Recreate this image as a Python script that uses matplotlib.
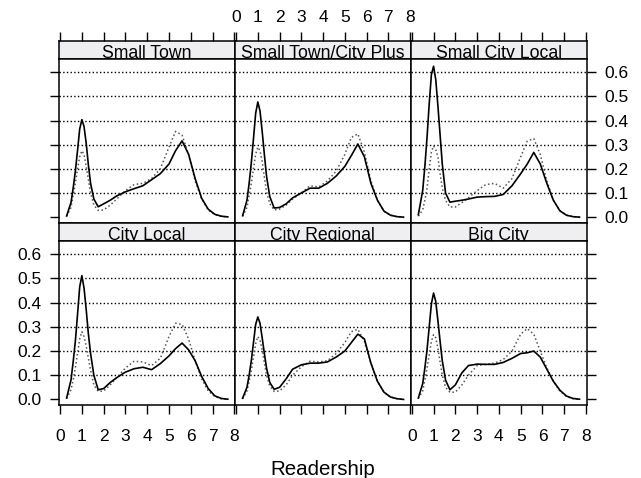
import numpy as np
import matplotlib.pyplot as plt

plt.rcParams['font.family'] = ['Liberation Sans', 'DejaVu Sans']

# readership grid the densities were read at
x = [0.3, 0.5, 0.6, 0.7, 0.8, 0.9, 1.0, 1.1, 1.2, 1.3, 1.4, 1.55, 1.75, 2.0, 2.3, 2.6,
     3.0, 3.4, 3.8, 4.2, 4.6, 5.0, 5.3, 5.6, 5.9, 6.2, 6.5, 6.8, 7.1, 7.4, 7.7]

small_town_solid = [0.005, 0.06, 0.12, 0.19, 0.275, 0.365, 0.404, 0.375, 0.305, 0.215, 0.14, 0.075, 0.043, 0.055, 0.07, 0.088,
                    0.105, 0.118, 0.13, 0.155, 0.18, 0.22, 0.275, 0.316, 0.26, 0.16, 0.078, 0.033, 0.012, 0.004, 0.001]
small_town_dotted = [0.004, 0.04, 0.09, 0.14, 0.2, 0.25, 0.275, 0.26, 0.21, 0.155, 0.1, 0.05, 0.028, 0.03, 0.05, 0.075,
                     0.11, 0.135, 0.14, 0.16, 0.2, 0.29, 0.355, 0.34, 0.26, 0.15, 0.075, 0.03, 0.01, 0.003, 0.001]

town_plus_solid = [0.006, 0.07, 0.14, 0.225, 0.325, 0.43, 0.477, 0.44, 0.355, 0.26, 0.17, 0.085, 0.038, 0.04, 0.055, 0.08,
                   0.1, 0.12, 0.12, 0.14, 0.17, 0.21, 0.255, 0.303, 0.25, 0.14, 0.07, 0.025, 0.008, 0.002, 0.0]
town_plus_dotted = [0.004, 0.04, 0.09, 0.14, 0.2, 0.26, 0.29, 0.275, 0.23, 0.165, 0.105, 0.055, 0.03, 0.033, 0.05, 0.075,
                    0.1, 0.13, 0.125, 0.15, 0.19, 0.26, 0.33, 0.345, 0.27, 0.15, 0.07, 0.025, 0.008, 0.002, 0.0]

small_city_solid = [0.01, 0.11, 0.21, 0.33, 0.47, 0.59, 0.625, 0.57, 0.46, 0.34, 0.22, 0.1, 0.062, 0.066, 0.07, 0.075,
                    0.083, 0.085, 0.086, 0.094, 0.13, 0.18, 0.22, 0.268, 0.22, 0.14, 0.07, 0.026, 0.008, 0.002, 0.0]
small_city_dotted = [0.004, 0.03, 0.07, 0.12, 0.2, 0.27, 0.295, 0.28, 0.25, 0.18, 0.12, 0.07, 0.042, 0.042, 0.06, 0.08,
                     0.11, 0.135, 0.14, 0.12, 0.16, 0.25, 0.315, 0.325, 0.26, 0.15, 0.07, 0.027, 0.008, 0.002, 0.0]

city_local_solid = [0.006, 0.08, 0.155, 0.24, 0.35, 0.465, 0.512, 0.46, 0.37, 0.27, 0.19, 0.1, 0.04, 0.045, 0.07, 0.09,
                    0.113, 0.127, 0.133, 0.123, 0.148, 0.18, 0.21, 0.233, 0.205, 0.16, 0.095, 0.045, 0.015, 0.004, 0.001]
city_local_dotted = [0.004, 0.04, 0.08, 0.13, 0.19, 0.25, 0.28, 0.26, 0.22, 0.17, 0.12, 0.06, 0.033, 0.035, 0.06, 0.09,
                     0.13, 0.158, 0.155, 0.14, 0.17, 0.26, 0.315, 0.31, 0.25, 0.16, 0.085, 0.035, 0.012, 0.003, 0.001]

city_regional_solid = [0.005, 0.05, 0.1, 0.16, 0.235, 0.31, 0.341, 0.315, 0.255, 0.19, 0.13, 0.07, 0.042, 0.05, 0.085, 0.125,
                       0.143, 0.15, 0.15, 0.155, 0.175, 0.2, 0.235, 0.27, 0.25, 0.15, 0.075, 0.03, 0.01, 0.003, 0.0]
city_regional_dotted = [0.003, 0.035, 0.075, 0.12, 0.175, 0.23, 0.26, 0.245, 0.205, 0.15, 0.1, 0.055, 0.033, 0.035, 0.06, 0.1,
                        0.135, 0.158, 0.155, 0.16, 0.19, 0.235, 0.28, 0.29, 0.24, 0.15, 0.075, 0.03, 0.01, 0.003, 0.0]

big_city_solid = [0.006, 0.065, 0.13, 0.205, 0.3, 0.395, 0.44, 0.405, 0.325, 0.24, 0.16, 0.08, 0.04, 0.06, 0.11, 0.14,
                  0.146, 0.145, 0.145, 0.153, 0.17, 0.19, 0.193, 0.2, 0.175, 0.125, 0.075, 0.038, 0.014, 0.004, 0.001]
big_city_dotted = [0.004, 0.035, 0.08, 0.13, 0.185, 0.24, 0.268, 0.255, 0.21, 0.155, 0.1, 0.05, 0.03, 0.03, 0.06, 0.1,
                   0.14, 0.145, 0.15, 0.165, 0.2, 0.27, 0.293, 0.27, 0.2, 0.13, 0.075, 0.035, 0.012, 0.003, 0.001]

names = ["Small Town", "Small Town/City Plus", "Small City Local",
         "City Local", "City Regional", "Big City"]
solids = [small_town_solid, town_plus_solid, small_city_solid,
          city_local_solid, city_regional_solid, big_city_solid]
dotteds = [small_town_dotted, town_plus_dotted, small_city_dotted,
           city_local_dotted, city_regional_dotted, big_city_dotted]

xticks = np.arange(0, 9)
yticks = np.arange(0, 0.61, 0.1)

W, H = 641, 478
fig = plt.figure(figsize=(W / 100, H / 100), dpi=100)

cols = [(59, 235), (235, 410.7), (410.7, 586.7)]
rows = [((41, 59), (59, 222.7)), ((222.7, 241), (241, 405))]

def box(x0, x1, y0, y1):
    return [x0 / W, 1 - y1 / H, (x1 - x0) / W, (y1 - y0) / H]

fs = 12.5
for i in range(6):
    r, c = divmod(i, 3)
    (sy0, sy1), (py0, py1) = rows[r]
    x0, x1 = cols[c]

    # strip
    st = fig.add_axes(box(x0, x1, sy0, sy1))
    st.set_facecolor('#efeff1')
    st.set_xlim(-0.05, 8.03)
    st.set_ylim(0, 1)
    st.set_yticks([])
    st.text(0.5, 0.04, names[i], transform=st.transAxes, ha='center',
            va='baseline', fontsize=12.7, clip_on=True)
    for s in st.spines.values():
        s.set_linewidth(1.1)
    if r == 0:
        st.xaxis.tick_top()
        st.set_xticks(xticks)
        st.tick_params(axis='x', direction='out', length=6.5, width=1.0,
                       pad=5, labelsize=fs, labeltop=(c == 1))
    else:
        st.set_xticks([])

    ax = fig.add_axes(box(x0, x1, py0, py1))
    ax.set_xlim(-0.05, 8.03)
    ax.set_ylim(-0.023, 0.655)
    for yy in yticks[1:]:
        ax.axhline(yy, color='black', linestyle=':', linewidth=1.0, zorder=1)
    ax.plot(x, dotteds[i], color='#555555', linestyle=':', linewidth=1.1, zorder=2)
    ax.plot(x, solids[i], color='black', linewidth=1.2, zorder=3)
    for s in ax.spines.values():
        s.set_linewidth(1.1)

    ax.set_xticks(xticks)
    ax.set_yticks(yticks)
    ax.set_yticklabels([f"{v:.1f}" for v in yticks])
    ax.tick_params(direction='out', length=6.5, width=1.0, labelsize=fs,
                   bottom=False, top=False, left=False, right=False,
                   labelbottom=False, labelleft=False)
    if r == 1:
        ax.tick_params(axis='x', bottom=True, labelbottom=(c != 1), pad=11)
    if c == 0:
        ax.tick_params(axis='y', left=True, labelleft=(r == 1), pad=6)
    if c == 2:
        ax.tick_params(axis='y', right=True, labelright=(r == 0), pad=6)

fig.text(0.503, 1 - 475 / H, "Readership", ha='center', va='baseline', fontsize=14.8)

fig.savefig("out.png", dpi=100)
